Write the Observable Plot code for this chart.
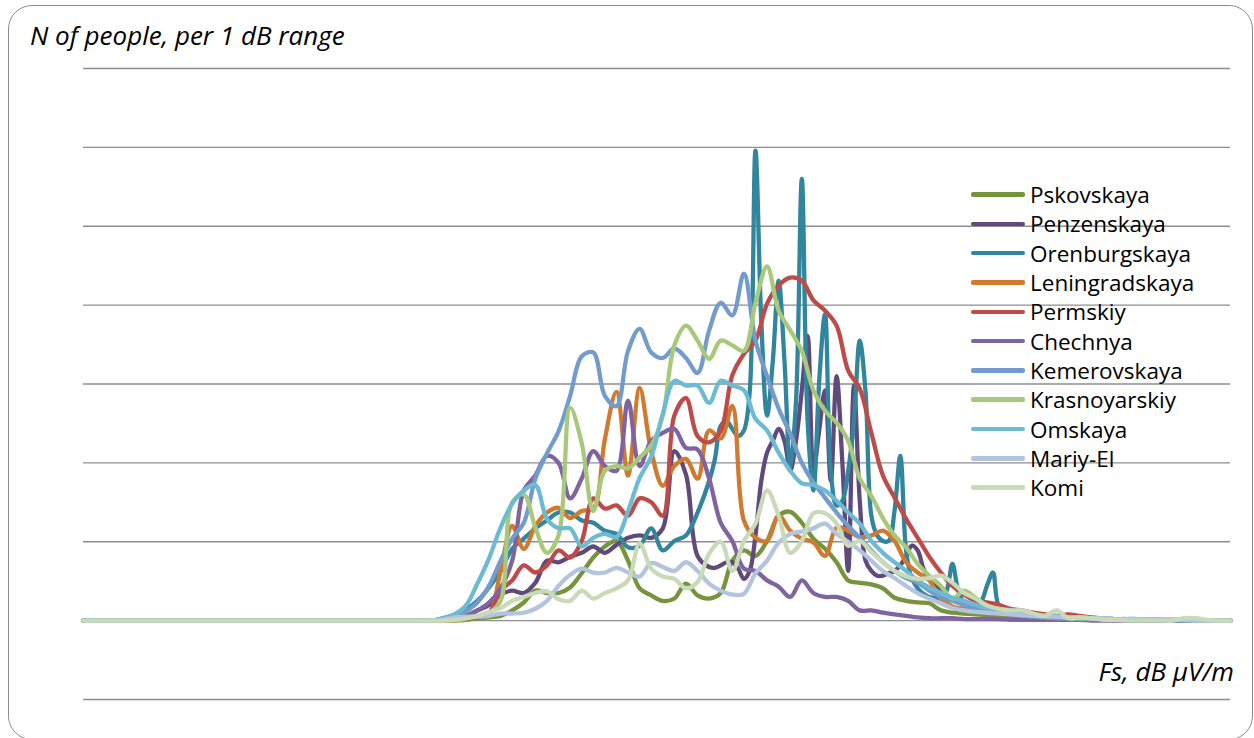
<!DOCTYPE html>
<html><head><meta charset="utf-8">
<script src="https://cdn.jsdelivr.net/npm/d3@7"></script>
<script src="https://cdn.jsdelivr.net/npm/@observablehq/plot@0.6"></script>
<style>
html,body{margin:0;padding:0;background:#fff;overflow:hidden;}
#wrap{position:relative;width:1254px;height:738px;overflow:hidden;font-family:"Open Sans",Lato,sans-serif;color:#000;}
#frame{position:absolute;left:8px;top:5px;width:1245px;height:735px;box-sizing:border-box;border:1.5px solid #8c8c8c;border-radius:24px;}
#chart{position:absolute;left:0;top:0;}
#title{position:absolute;left:30px;top:22px;font-style:italic;font-size:26px;line-height:26px;white-space:nowrap;}
#xlabel{position:absolute;right:20px;top:658px;font-style:italic;font-size:26px;line-height:26px;white-space:nowrap;}
#legend{position:absolute;left:971px;top:180px;}
.item{display:flex;align-items:center;height:29.3px;}
.sw{width:54px;height:4.5px;margin-right:5px;border-radius:2px;}
.lbl{font-size:22.5px;line-height:23px;}
</style></head><body>
<div id="wrap"><div id="frame"></div><div id="chart"></div><div id="title">N of people, per 1 dB range</div><div id="xlabel">Fs, dB µV/m</div><div id="legend"></div></div>
<script>
// x positions (dB bins); first entry is the flat start of the axis
const fs = [1, ...d3.range(30, 101)];
const fsFine = [1, ...d3.range(30, 55), ...d3.range(55, 80, 0.5), ...d3.range(80, 101)];
const gridValues = [-100, 0, 100, 200, 300, 400, 500, 600, 700];

const names = ["Pskovskaya","Penzenskaya","Orenburgskaya","Leningradskaya","Permskiy","Chechnya","Kemerovskaya","Krasnoyarskiy","Omskaya","Mariy-El","Komi"];
const colors = ["#77933C","#604A7B","#31859C","#D07A30","#BE4B48","#8064A2","#749BCE","#A8C97B","#6DBBD3","#B3C4DF","#C8DAB8"];

const pskovskaya = [0, 0,0,0,0,1,3,4,6,13,23, 38,35,35,42,60,80,94,101,76,41, 32,25,28,47,32,28,35,76,89,82, 101,133,138,124,104,91,74,51,48,46, 41,29,25,23,22,13,10,9,8,7, 6,5,4,4,3,3,2,2,2,1, 1,1,1,0,0,0,0,0,0,0, 0];
const penzenskaya = [0,
  0,0,1,4,6,13,20,33,38,35, 48,76,74,81,86,94,86,96,105,108, 105,117,215,185,82,
  68,67,70,74,74,66,53,63,108,177, 213,228,243,228,190,228,292,361,190,241,
  292,177,310,200,63,298,152,76,63,57, 57,60,63,70,82,95,89,66,53,44,
  38,32,28,24,20,18,15,13,11,10,
  9,8,6,5,4,3,3,2,2,1, 1,1,1,0,0,0,0,0,0,0, 0];
const orenburgskaya = [0,
  0,0,3,7,14,25,42,63,91,104, 117,127,137,137,127,124,114,110,93,95, 117,89,101,108,137,
  177,205,247,253,243,234,241,290,596,380, 260,330,431,330,196,279,560,253,165,304,
  389,190,146,152,190,253,355,290,133,108, 101,101,139,209,89,53,41,34,30,29,
  28,38,72,38,23,20,19,25,45,61,
  19,9,6,5,4,3,2,2,1,1, 1,0,0,0,0,0,0,0,0,0, 0];
const leningradskaya = [0, 0,0,0,1,3,5,8,63,120,91, 120,137,143,130,139,142,230,290,184,295, 215,171,196,205,180,241,231,272,127,105, 101,133,114,104,99,82,118,114,106,108, 114,101,74,61,51,28,18,15,13,10, 9,8,6,5,4,4,3,3,2,2, 1,1,1,1,1,0,0,0,0,0, 0];
const permskiy = [0, 0,0,0,1,3,5,10,38,51,70, 61,70,89,80,101,155,142,146,133,155, 150,133,260,282,234,226,241,311,338,355, 402,425,435,431,406,393,374,317,294,238, 184,156,129,105,81,61,44,33,25,23, 20,15,13,10,8,6,8,6,4,3, 2,2,1,1,1,1,1,0,0,0, 0];
const chechnya = [0, 0,0,1,4,6,13,23,41,76,165, 184,209,200,155,180,215,196,190,279,196, 228,238,243,219,217,180,124,101,66,63, 51,43,30,51,35,30,30,25,13,13, 10,8,6,4,3,3,3,2,2,2, 2,1,1,1,1,1,1,1,0,0, 0,0,0,0,0,0,0,0,0,0, 0];
const kemerovskaya = [0, 0,0,1,5,12,23,44,76,104,124, 180,212,240,285,335,340,285,272,342,370, 340,333,345,333,314,368,403,387,440,355, 310,269,237,200,175,156,137,120,105,89, 74,63,54,48,38,30,25,20,16,13, 10,8,6,5,4,3,3,2,2,2, 1,1,1,1,1,0,0,0,0,0, 0];
const krasnoyarskiy = [0, 0,0,0,1,3,6,10,25,150,160, 118,86,108,270,225,139,190,196,193,207, 222,260,349,374,355,332,355,349,342,403, 449,393,368,342,292,266,251,228,180,158, 130,108,93,72,57,44,28,38,29,19, 15,13,10,8,6,5,4,3,3,2, 2,1,1,1,1,1,1,0,0,0, 0];
const omskaya = [0, 0,0,3,8,19,47,79,118,148,165, 172,129,117,117,94,105,110,106,139,181, 208,262,304,298,298,276,304,298,292,256, 241,213,190,174,172,165,152,137,123,101, 86,74,63,51,42,35,29,25,20,16, 14,11,9,8,6,5,4,4,3,3, 2,2,2,1,1,1,1,0,0,0, 0];
const mariyEl = [0, 0,0,1,4,5,5,6,9,9,10, 15,25,44,58,66,61,61,67,61,56, 73,68,63,74,63,47,38,33,34,60, 76,99,110,113,117,123,110,100,89,76, 63,54,44,35,28,22,16,13,11,10, 9,8,7,6,5,5,4,4,3,3, 2,2,2,1,1,1,1,0,0,0, 0];
const komi = [0, 0,0,0,1,3,6,11,16,25,30, 35,37,27,25,38,28,35,41,51,98, 66,56,53,41,49,85,100,63,101,123, 165,133,86,101,136,136,123,95,101,87, 74,63,56,53,54,57,48,35,28,19, 15,13,13,9,6,13,3,4,3,1, 1,0,0,0,0,0,3,3,1,0, 0];

const seriesValues = [pskovskaya, penzenskaya, orenburgskaya, leningradskaya, permskiy, chechnya, kemerovskaya, krasnoyarskiy, omskaya, mariyEl, komi];
const seriesX = [fs, fsFine, fsFine, fs, fs, fs, fs, fs, fs, fs, fs];

const lineMarks = seriesValues.map((vals, k) => {
  const xs = seriesX[k];
  const rows = vals.map((v, i) => ({x: xs[i], y: v}));
  return Plot.line(rows, {x: "x", y: "y", stroke: colors[k], strokeWidth: 4.3, curve: "catmull-rom"});
});

const chart = Plot.plot({
  width: 1254, height: 738,
  marginLeft: 83, marginRight: 24, marginTop: 68, marginBottom: 39,
  style: {background: "transparent", overflow: "visible"},
  x: {domain: [1, 100], axis: null},
  y: {domain: [-100, 700], axis: null},
  marks: [
    Plot.gridY(gridValues, {stroke: "#8e8e8e", strokeOpacity: 1, strokeWidth: 1.4}),
    ...lineMarks
  ]
});
document.getElementById("chart").appendChild(chart);

const legend = document.getElementById("legend");
names.forEach((n, k) => {
  const it = document.createElement("div"); it.className = "item";
  const sw = document.createElement("div"); sw.className = "sw"; sw.style.background = colors[k];
  const lb = document.createElement("div"); lb.className = "lbl"; lb.textContent = n;
  it.appendChild(sw); it.appendChild(lb); legend.appendChild(it);
});
</script></body></html>
